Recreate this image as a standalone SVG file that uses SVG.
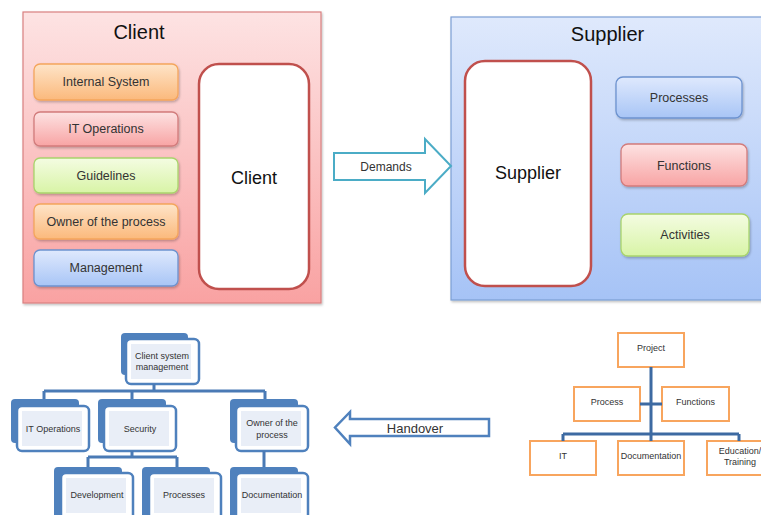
<svg xmlns="http://www.w3.org/2000/svg" width="761" height="515" viewBox="0 0 761 515">
  <defs>
    <linearGradient id="gPink" x1="0" y1="0" x2="0" y2="1">
      <stop offset="0" stop-color="#fde3e3"/>
      <stop offset="1" stop-color="#f9a2a2"/>
    </linearGradient>
    <linearGradient id="gBlueP" x1="0" y1="0" x2="0" y2="1">
      <stop offset="0" stop-color="#dfe9fc"/>
      <stop offset="1" stop-color="#a6c3f6"/>
    </linearGradient>
    <linearGradient id="gOrange" x1="0" y1="0" x2="0" y2="1">
      <stop offset="0" stop-color="#fee4c8"/>
      <stop offset="1" stop-color="#fbb97c"/>
    </linearGradient>
    <linearGradient id="gRed" x1="0" y1="0" x2="0" y2="1">
      <stop offset="0" stop-color="#fde2e2"/>
      <stop offset="1" stop-color="#f8a4a4"/>
    </linearGradient>
    <linearGradient id="gGreen" x1="0" y1="0" x2="0" y2="1">
      <stop offset="0" stop-color="#f4fce2"/>
      <stop offset="1" stop-color="#d8f4a6"/>
    </linearGradient>
    <linearGradient id="gBlue" x1="0" y1="0" x2="0" y2="1">
      <stop offset="0" stop-color="#dfe9fd"/>
      <stop offset="1" stop-color="#a8c5f6"/>
    </linearGradient>
    <filter id="shadow" x="-10%" y="-10%" width="125%" height="130%">
      <feDropShadow dx="1" dy="1.5" stdDeviation="1" flood-color="#000" flood-opacity="0.25"/>
    </filter>
  </defs>
  <style>
    text { font-family: "Liberation Sans", Arial, sans-serif; fill: #262626; text-anchor: middle; dominant-baseline: central; }
    .title { font-size: 20px; fill: #111; }
    .big { font-size: 18px; fill: #111; }
    .pill { font-size: 12.5px; fill: #333; }
    .small { font-size: 9px; fill: #333; }
    .pillbox { stroke-width: 1.3; filter: url(#shadow); }
    .orange { fill: url(#gOrange); stroke: #f5a55c; }
    .red { fill: url(#gRed); stroke: #d27b7b; }
    .green { fill: url(#gGreen); stroke: #a9d46c; }
    .blue { fill: url(#gBlue); stroke: #6c92cf; }
    .holder { fill: #fff; stroke: #c0504d; stroke-width: 2.5; }
    .back { fill: #4f81bd; }
    .front { fill: #fff; stroke: #4f81bd; stroke-width: 2.5; }
    .inner { fill: #e9eef7; }
    .obox { fill: #fff; stroke: #f8a55e; stroke-width: 2; }
    .conn { fill: none; stroke: #4a7ab5; stroke-width: 3; }
    .conn2 { fill: none; stroke: #3d6aa2; stroke-width: 3; }
  </style>

  <!-- Client panel -->
  <g id="client-panel">
    <rect x="23" y="12" width="298" height="291" fill="url(#gPink)" stroke="#d98080" stroke-width="1.2" filter="url(#shadow)"/>
    <text class="title" x="139" y="32">Client</text>
  </g>
  <g id="internal-system">
    <rect class="pillbox orange" x="34" y="64" width="144" height="36" rx="6"/>
    <text class="pill" x="106" y="82">Internal System</text>
  </g>
  <g id="it-operations">
    <rect class="pillbox red" x="34" y="112" width="144" height="34" rx="6"/>
    <text class="pill" x="106" y="129">IT Operations</text>
  </g>
  <g id="guidelines">
    <rect class="pillbox green" x="34" y="158" width="144" height="35" rx="6"/>
    <text class="pill" x="106" y="175.5">Guidelines</text>
  </g>
  <g id="owner-process">
    <rect class="pillbox orange" x="34" y="204" width="144" height="35" rx="6"/>
    <text class="pill" x="106" y="221.5">Owner of the process</text>
  </g>
  <g id="management">
    <rect class="pillbox blue" x="34" y="250" width="144" height="36" rx="6"/>
    <text class="pill" x="106" y="268">Management</text>
  </g>
  <g id="client-holder">
    <rect class="holder" x="199" y="64" width="110" height="225" rx="20"/>
    <text class="big" x="254" y="178">Client</text>
  </g>

  <!-- Supplier panel -->
  <g id="supplier-panel">
    <rect x="451" y="17" width="320" height="283" fill="url(#gBlueP)" stroke="#7c9fd4" stroke-width="1.2" filter="url(#shadow)"/>
    <text class="title" x="607.5" y="34">Supplier</text>
  </g>
  <g id="supplier-holder">
    <rect class="holder" x="465" y="61" width="126" height="225" rx="20"/>
    <text class="big" x="528" y="173">Supplier</text>
  </g>
  <g id="processes">
    <rect class="pillbox blue" x="616" y="77" width="126" height="41" rx="7"/>
    <text class="pill" x="679" y="97.5">Processes</text>
  </g>
  <g id="functions">
    <rect class="pillbox red" x="621" y="144" width="126" height="42" rx="7"/>
    <text class="pill" x="684" y="165.5">Functions</text>
  </g>
  <g id="activities">
    <rect class="pillbox green" x="621" y="214" width="128" height="42" rx="7"/>
    <text class="pill" x="685" y="235">Activities</text>
  </g>

  <!-- Left org chart -->
  <g id="csm">
    <rect class="back" x="121" y="333" width="67" height="42" rx="4"/>
    <rect class="front" x="126" y="339" width="73" height="45" rx="5"/>
    <rect class="inner" x="131" y="344" width="60" height="35"/>
    <text class="small" x="162" y="356">Client system</text>
    <text class="small" x="162" y="367">management</text>
  </g>
  <g id="oc-it-operations">
    <rect class="back" x="11" y="399" width="68" height="44" rx="4"/>
    <rect class="front" x="17" y="406" width="72" height="45" rx="5"/>
    <rect class="inner" x="22" y="411" width="60" height="35"/>
    <text class="small" x="53" y="428.5">IT Operations</text>
  </g>
  <g id="oc-security">
    <rect class="back" x="98" y="399" width="68" height="44" rx="4"/>
    <rect class="front" x="104" y="406" width="72" height="45" rx="5"/>
    <rect class="inner" x="109" y="411" width="60" height="35"/>
    <text class="small" x="140" y="428.5">Security</text>
  </g>
  <g id="oc-owner">
    <rect class="back" x="230" y="399" width="68" height="44" rx="4"/>
    <rect class="front" x="236" y="406" width="72" height="45" rx="5"/>
    <rect class="inner" x="241" y="411" width="60" height="35"/>
    <text class="small" x="272" y="423">Owner of the</text>
    <text class="small" x="272" y="434.5">process</text>
  </g>
  <g id="oc-development">
    <rect class="back" x="54" y="467" width="68" height="60" rx="4"/>
    <rect class="front" x="61" y="473" width="72" height="60" rx="5"/>
    <rect class="inner" x="66" y="478" width="60" height="35"/>
    <text class="small" x="97" y="495">Development</text>
  </g>
  <g id="oc-processes">
    <rect class="back" x="142" y="467" width="68" height="60" rx="4"/>
    <rect class="front" x="149" y="473" width="72" height="60" rx="5"/>
    <rect class="inner" x="154" y="478" width="60" height="35"/>
    <text class="small" x="184" y="495">Processes</text>
  </g>
  <g id="oc-documentation">
    <rect class="back" x="230" y="467" width="68" height="60" rx="4"/>
    <rect class="front" x="236" y="473" width="72" height="60" rx="5"/>
    <rect class="inner" x="241" y="478" width="60" height="35"/>
    <text class="small" x="272" y="495">Documentation</text>
  </g>

  <!-- Right org chart -->
  <g id="project">
    <rect class="obox" x="618" y="333" width="66" height="34"/>
    <text class="small" x="651" y="348">Project</text>
  </g>
  <g id="process">
    <rect class="obox" x="574" y="387" width="66" height="34"/>
    <text class="small" x="607" y="402">Process</text>
  </g>
  <g id="rc-functions">
    <rect class="obox" x="662" y="387" width="67" height="34"/>
    <text class="small" x="695.5" y="402">Functions</text>
  </g>
  <g id="rc-it">
    <rect class="obox" x="530" y="441" width="66" height="34"/>
    <text class="small" x="563" y="456">IT</text>
  </g>
  <g id="rc-documentation">
    <rect class="obox" x="618" y="441" width="66" height="34"/>
    <text class="small" x="651" y="456">Documentation</text>
  </g>
  <g id="rc-education">
    <rect class="obox" x="707" y="441" width="66" height="34"/>
    <text class="small" x="740" y="451">Education/</text>
    <text class="small" x="740" y="462">Training</text>
  </g>

  <!-- Connectors and arrows -->
  <g id="connectors">
    <polygon points="334,153 425,153 425,139 451,166 425,193 425,180 334,180" fill="#fff" stroke="#4bacc6" stroke-width="2"/>
    <text class="pill" x="386" y="167" style="font-size:12px">Demands</text>

    <polygon points="489,419 350,419 350,412 335,427.5 350,444 350,436 489,436" fill="#fff" stroke="#4f81bd" stroke-width="2.5"/>
    <text class="pill" x="415" y="428" style="font-size:13px">Handover</text>

    <path class="conn" d="M154,384 V391 M44,391 H265 M44,391 V399 M132,391 V399 M265,391 V399"/>
    <path class="conn" d="M132,451 V457 M88,457 H177 M88,457 V467 M177,457 V467 M264,451 V467"/>

    <path class="conn2" d="M651,367 V441 M640,404 H662 M563,434 H739 M563,434 V441 M739,434 V441"/>
  </g>
</svg>
